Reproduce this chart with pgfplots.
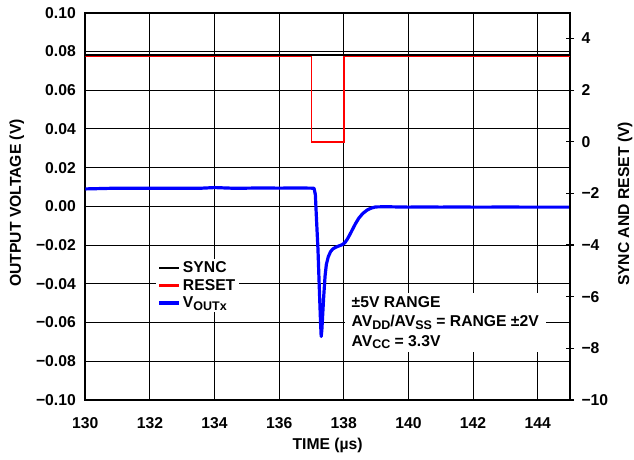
\documentclass[border=0pt]{standalone}
\usepackage{pgfplots}
\pgfplotsset{compat=1.18}
\usepackage{fontspec}
\setmainfont{Liberation Sans}
\newcommand\ff{\fontsize{15.7}{19.5}\selectfont\bfseries}
\newcommand\sub[1]{\raisebox{-0.32ex}{\fontsize{12.5}{14}\selectfont\bfseries #1}}
\begin{document}
\begin{tikzpicture}
\path[use as bounding box] (-85.3pt,-59pt) rectangle (548.7pt,400pt);
\begin{axis}[
  at={(0,0)}, anchor=south west, scale only axis,
  width=484.7pt, height=387.3pt,
  xmin=130, xmax=145, ymin=-0.1, ymax=0.1,
  xtick={130,132,134,136,138,140,142,144},
  ytick={-0.1,-0.08,-0.06,-0.04,-0.02,0,0.02,0.04,0.06,0.08,0.1},
  yticklabels={−0.10,−0.08,−0.06,−0.04,−0.02,0.00,0.02,0.04,0.06,0.08,0.10},
  xticklabels={130,132,134,136,138,140,142,144},
  grid=major, major grid style={black, line width=1.1pt},
  axis line style={line width=2pt},
  major tick length=0pt,
  tick label style={font=\ff},
  xticklabel style={yshift=-14pt},
  yticklabel style={xshift=-6pt},
  label style={font=\ff},
  xlabel={TIME (µs)},
  xlabel style={at={(axis description cs:0.5,-0.1162)}, anchor=center},
  ylabel={OUTPUT VOLTAGE (V)},
  ylabel style={at={(axis description cs:-0.1415,0.5087)}, anchor=center},
  legend cell align=left,
  legend style={font=\ff, draw=none, fill=white, at={(0.145,0.365)}, anchor=north west, inner xsep=2pt, inner ysep=1pt, row sep=1pt},
  legend image code/.code={\draw[#1] (0pt,0pt) -- (20pt,0pt);},
]
\addlegendimage{draw=black, line width=2.2pt}
\addlegendentry{SYNC}
\addlegendimage{draw=red, line width=2.2pt}
\addlegendentry{RESET}
\addplot[blue, line width=3.2pt, line join=round] coordinates {
(130,0.0090) (130.5,0.0092) (131,0.0094) (131.5,0.0093) (132,0.0094) (132.5,0.0093)
(133,0.0094) (133.5,0.0093) (134,0.0097) (134.5,0.0094) (135,0.0094) (135.5,0.0095)
(136,0.0094) (136.5,0.0095) (137,0.0094) (137.08,0.0093) (137.12,0.0060) (137.15,-0.005)
(137.20,-0.022) (137.25,-0.046) (137.28,-0.060) (137.30,-0.0672) (137.32,-0.064)
(137.35,-0.055) (137.38,-0.046) (137.42,-0.036) (137.46,-0.030) (137.52,-0.026)
(137.59,-0.0234) (137.66,-0.022) (137.74,-0.0212) (137.84,-0.0205) (137.95,-0.0198)
(138.03,-0.0188) (138.10,-0.0172) (138.18,-0.0148) (138.26,-0.0122) (138.36,-0.0090)
(138.46,-0.0062) (138.58,-0.0038) (138.72,-0.0019) (138.85,-0.0009) (138.98,-0.0003)
(139.3,-0.0002) (140,-0.0004) (140.5,-0.0003) (141,-0.0004) (141.5,-0.0003)
(142,-0.0004) (142.5,-0.0004) (143,-0.0003) (143.5,-0.0004) (144,-0.0004) (145,-0.0004)
};
\addlegendentry{V\sub{OUTx}}
\node[fill=white, anchor=north west, align=left, font=\ff, inner xsep=7pt, inner ysep=3pt]
  at (axis cs:138.02,-0.0447) {±5V RANGE\\AV\sub{DD}/AV\sub{SS} = RANGE ±2V\\AV\sub{CC} = 3.3V};
\end{axis}
\begin{axis}[
  at={(0,0)}, anchor=south west, scale only axis,
  width=484.7pt, height=387.3pt,
  xmin=130, xmax=145, ymin=-10, ymax=5,
  axis x line=none, axis y line*=right,
  ytick={-10,-8,-6,-4,-2,0,2,4},
  yticklabels={−10,−8,−6,−4,−2,0,2,4},
  axis line style={line width=2pt},
  tick align=center, major tick length=8pt,
  tick style={black, line width=1.2pt},
  tick label style={font=\ff},
  yticklabel style={anchor=west, xshift=4pt},
  label style={font=\ff},
  ylabel={SYNC AND RESET (V)},
  ylabel style={at={(axis description cs:1.1135,0.5061)}, anchor=center},
]
\addplot[black, line width=2pt] coordinates {(130,3.37) (145,3.37)};
\addplot[red, line width=1.8pt] coordinates {(130,3.3) (137,3.3) (137,0) (138,0) (138,3.3) (145,3.3)};
\end{axis}
\end{tikzpicture}
\end{document}
